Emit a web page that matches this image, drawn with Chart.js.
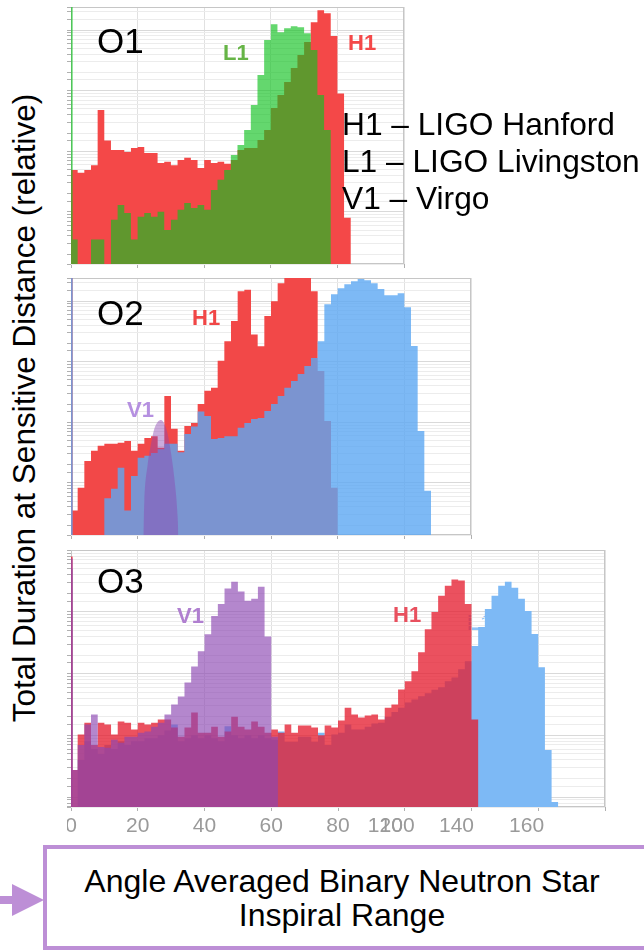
<!DOCTYPE html>
<html>
<head>
<meta charset="utf-8">
<script src="https://cdn.jsdelivr.net/npm/chart.js@4.4.1/dist/chart.umd.min.js"></script>
<style>
  html, body { margin: 0; padding: 0; background: #fff; }
  body { position: relative; width: 644px; height: 951px; overflow: hidden; font-family: "Liberation Sans", Arial, sans-serif; }
  canvas { position: absolute; z-index: 1; }
  .t { position: absolute; z-index: 2; white-space: nowrap; line-height: 1; color: #000; }
  .tag { font-weight: bold; font-size: 22px; }
</style>
</head>
<body>

<canvas id="o1" width="338" height="262" style="left:67px;top:6px"></canvas>
<canvas id="o2" width="405" height="262" style="left:67px;top:277px"></canvas>
<canvas id="o3" width="539" height="292" style="left:67px;top:549px"></canvas>

<div class="t" style="left:97px;top:23px;font-size:35px">O1</div>
<div class="t" style="left:97px;top:295px;font-size:35px">O2</div>
<div class="t" style="left:97px;top:563px;font-size:35px">O3</div>

<div class="t tag" style="left:223px;top:42px;color:#66b446">L1</div>
<div class="t tag" style="left:348px;top:32px;color:#f44848">H1</div>
<div class="t tag" style="left:192px;top:307px;color:#f04646">H1</div>
<div class="t tag" style="left:127px;top:399px;color:#b590e0">V1</div>
<div class="t tag" style="left:177px;top:605px;color:#b07fd0">V1</div>
<div class="t tag" style="left:393px;top:604px;color:#e8505e">H1</div>
<div class="t tag" style="left:467px;top:612px;color:#8ec4f7;z-index:0">L1</div>

<div class="t" style="left:342px;top:106px;font-size:31.7px;line-height:37px">H1 – LIGO Hanford<br>L1 – LIGO Livingston<br>V1 – Virgo</div>

<div class="t" style="left:25px;top:408px;font-size:31.5px;transform:translate(-50%,-50%) rotate(-90deg)">Total Duration at Sensitive Distance (relative)</div>

<svg style="position:absolute;left:0;top:884px" width="46" height="32">
  <rect x="0" y="12" width="16" height="8" fill="#bd8fd6"/>
  <polygon points="12,0 44,16 12,32" fill="#bd8fd6"/>
</svg>
<div style="position:absolute;left:43px;top:845px;width:700px;height:97px;border:4px solid #bd8fd6;"></div>
<div class="t" style="left:0;width:684px;text-align:center;top:864px;font-size:32px;line-height:34px">Angle Averaged Binary Neutron Star<br>Inspiral Range</div>

<script>
// bins are 2 Mpc wide, with a thin first bin at 0 for the zero-range spike
function binEdges(last) {
  const e = [0, 0.5];
  for (let x = 2; x <= last; x += 2) e.push(x);
  return e;
}

// O1
const o1Edges = binEdges(86);
const o1H1 = [49, 49, 44, 49, 59, 480, 150, 105, 105, 97, 113, 118, 94, 94, 64, 67, 59, 72, 78, 72,
  53, 72, 64, 67, 62, 72, 105, 113, 113, 153, 224, 517, 850, 1390, 2360, 3860, 6330, 13500, 21300, 19000,
  8000, 900, 8];
const o1L1 = [30000, 3.5, 0, 0, 3.5, 3.5, 0, 7.4, 13, 9.6, 3.5, 8.3, 9.6, 8.3, 10, 5, 7.4, 10.8, 14, 11.6,
  13, 10.8, 23, 34, 49, 87, 127, 224, 580, 1810, 6820, 12500, 9230, 10740, 11590, 11160, 8890, 4670, 850, 224];

// O2
const o2Edges = binEdges(108);
const o2H1 = [30000, 3.5, 8.3, 23, 34, 41, 44, 44, 46, 49, 34, 44, 55, 59, 38, 270, 78, 34, 87, 97,
  200, 330, 370, 1030, 2180, 4670, 14500, 15300, 2800, 1800, 5640, 9950, 19700, 30000, 30000, 30000, 25000, 14500, 700, 105,
  8.3];
const o2L1 = [30000, 0, 0, 0, 0, 0, 5.6, 8, 17.7, 3.5, 13, 26, 28, 31, 36, 44, 44, 32, 64, 85,
  150, 127, 53, 55, 59, 59, 81, 97, 113, 118, 153, 200, 271, 370, 479, 625, 847, 1150, 2180, 8890,
  13000, 16300, 19000, 21300, 23000, 22000, 19700, 15800, 12500, 12500, 13490, 7900, 1810, 72, 7.4];
const o2V1x = [21.7, 22, 23, 24, 25, 26, 27, 28, 29, 30, 31, 32, 32.2];
const o2V1 = [0, 5, 20, 44, 78, 101, 109, 94, 64, 31, 12, 2.7, 0];

// O3
const o3Edges = binEdges(146);
const o3H1 = [7900, 2.75, 10.3, 16, 7, 16, 15, 10.3, 16.7, 16, 12.4, 16, 15, 16, 18, 18, 13.4, 9.5, 13.4, 23.5,
  11, 11, 13.8, 9.5, 11.5, 20, 13.8, 12.4, 16.7, 13.8, 11, 12.4, 11, 15, 11, 14.4, 14.4, 13.4, 10, 14.4,
  13.4, 17.4, 28, 21.8, 19.4, 20.9, 21.8, 18, 28, 31.6, 55.6, 75, 109, 223, 527, 1000, 1830, 2670, 3360, 3230,
  1350, 18];
const o3L1 = [5000, 0, 4, 8, 6, 5, 7, 6, 8, 7, 8, 8, 9, 9, 10, 12, 15, 8, 9, 10,
  9, 10, 9, 8, 14, 10, 9, 10, 9, 10, 9, 8.5, 11.5, 7.9, 7.9, 9.5, 9.5, 7.9, 11, 7,
  10.3, 11, 15, 12.4, 12.4, 13.8, 15.5, 16, 20, 24, 28, 34, 38, 43, 48, 55, 60, 75, 87, 118,
  159, 280, 570, 1120, 1830, 2670, 3100, 2470, 1640, 1040, 440, 127, 5.8, 0.83];
const o3V1 = [7350, 2.75, 7, 15, 21.8, 6.5, 6.3, 8.5, 7.6, 9.5, 9.5, 11, 11.5, 13.8, 16, 21.8, 31.6, 42.6, 72, 131,
  231, 437, 862, 1350, 2400, 3100, 2140, 1520, 1640, 2570, 400, 9.5];

// bottom axis labels of the O3 panel, as they appear on the slide (120 and 100 overlap)
const o3TickValues = [0, 20, 40, 60, 80, 94.2, 97.7, 115.5, 136.5];
const o3TickLabels = ['0', '20', '40', '60', '80', '120', '100', '140', '160'];

// log axis can't show zero, so empty bins sit on the axis floor
function stepPoints(edges, values, floor) {
  const pts = [];
  for (let i = 0; i < edges.length - 1; i++) {
    const v = values[i] || 0;
    pts.push({ x: edges[i], y: v > 0 ? v : floor });
  }
  pts.push({ x: edges[edges.length - 1], y: floor });
  return pts;
}

function histSet(edges, values, floor, color, order) {
  return {
    data: stepPoints(edges, values, floor),
    stepped: 'before',
    fill: 'start',
    backgroundColor: color,
    borderColor: 'transparent',
    borderWidth: 0,
    pointRadius: 0,
    clip: 0,
    order: order
  };
}

const frame = {
  id: 'frame',
  beforeDatasetsDraw(chart) {
    const a = chart.chartArea, ctx = chart.ctx;
    ctx.save();
    ctx.strokeStyle = '#c6c6c6';
    ctx.lineWidth = 1;
    ctx.strokeRect(a.left + 0.5, a.top + 0.5, a.right - a.left - 1, a.bottom - a.top - 1);
    ctx.restore();
  }
};

const o3Labels = {
  id: 'o3Labels',
  afterDraw(chart) {
    const ctx = chart.ctx, xs = chart.scales.x;
    const y = chart.chartArea.bottom + 19;
    ctx.save();
    ctx.font = '21px "Liberation Sans", Arial, sans-serif';
    ctx.fillStyle = '#9a9a9a';
    ctx.textAlign = 'center';
    ctx.textBaseline = 'middle';
    o3TickValues.forEach((v, i) => ctx.fillText(o3TickLabels[i], xs.getPixelForValue(v), y));
    ctx.restore();
  }
};

function makeChart(id, xMax, yMin, yMax, datasets, padBottom, plugins) {
  return new Chart(document.getElementById(id), {
    type: 'line',
    data: { datasets: datasets },
    options: {
      responsive: false,
      animation: false,
      events: [],
      layout: { padding: { top: 1, right: 1, bottom: padBottom, left: 0 } },
      plugins: { legend: { display: false }, tooltip: { enabled: false } },
      scales: {
        x: {
          type: 'linear', min: 0, max: xMax,
          ticks: { display: false, stepSize: 20 },
          grid: { color: '#e1e1e1', tickLength: 4, tickColor: '#b0b0b0' },
          border: { display: false }
        },
        y: {
          type: 'logarithmic', min: yMin, max: yMax,
          ticks: { display: false },
          grid: {
            color: c => (c.tick && c.tick.major) ? '#d9d9d9' : '#ececec',
            tickLength: 4, tickColor: '#b0b0b0'
          },
          border: { display: false }
        }
      }
    },
    plugins: plugins
  });
}

const o12Min = 1.38, o12Max = 24000;
const o3Min = 0.69, o3Max = 10100;

makeChart('o1', 100, o12Min, o12Max, [
  histSet(o1Edges, o1H1, o12Min, '#f44848', 2),
  histSet(o1Edges, o1L1, o12Min, 'rgba(17,194,32,0.65)', 1)
], 0, [frame]);

makeChart('o2', 120, o12Min, o12Max, [
  histSet(o2Edges, o2H1, o12Min, '#f24848', 3),
  histSet(o2Edges, o2L1, o12Min, 'rgba(92,167,242,0.8)', 2),
  {
    data: o2V1x.map((x, i) => ({ x: x, y: o2V1[i] > 0 ? o2V1[i] : o12Min })),
    cubicInterpolationMode: 'monotone',
    fill: 'start',
    backgroundColor: 'rgba(140,71,178,0.45)',
    borderColor: 'transparent',
    borderWidth: 0,
    pointRadius: 0,
    clip: 0,
    order: 1
  }
], 0, [frame]);

makeChart('o3', 160, o3Min, o3Max, [
  histSet(o3Edges, o3L1, o3Min, '#7db9f5', 3),
  histSet(o3Edges, o3H1, o3Min, 'rgba(229,28,47,0.77)', 2),
  histSet(o3Edges, o3V1, o3Min, 'rgba(140,71,178,0.65)', 1)
], 30, [frame, o3Labels]);
</script>
</body>
</html>
